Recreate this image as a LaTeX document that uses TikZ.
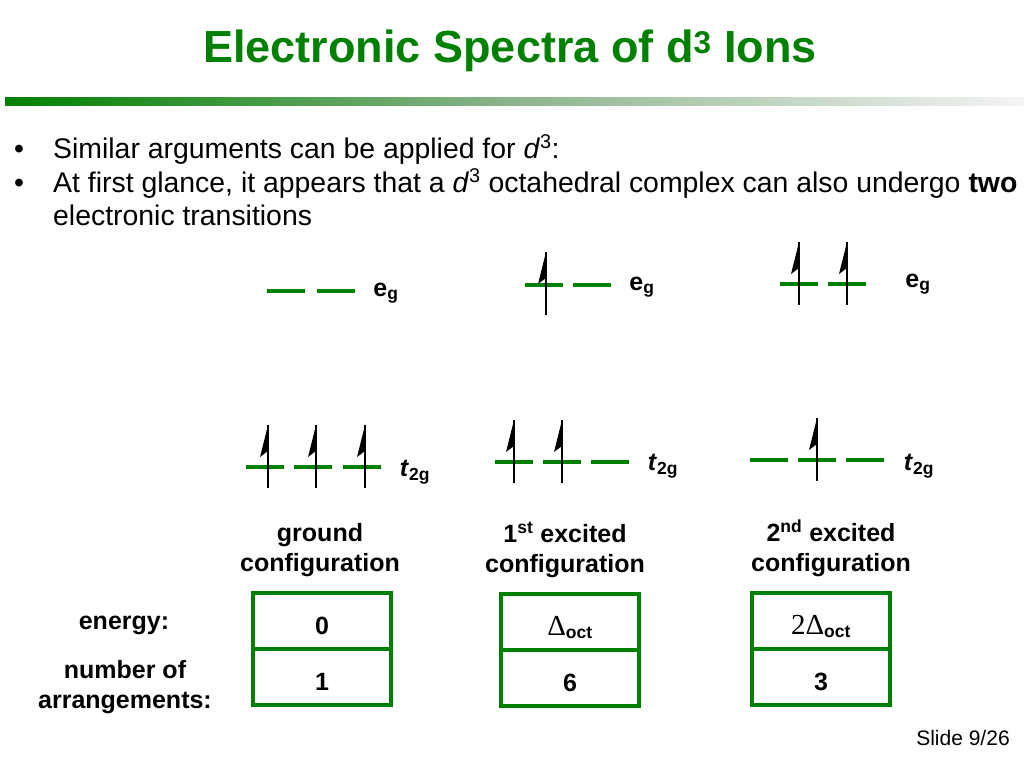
\documentclass[tikz,border=0pt]{standalone}
\usepackage{fontspec}
\setmainfont{Liberation Sans}
\newfontfamily\serifgr{Liberation Serif}
\usetikzlibrary{positioning}
\definecolor{slidegreen}{RGB}{0,128,0}
\definecolor{barmid}{RGB}{140,180,140}
\definecolor{barend}{RGB}{244,244,244}

\begin{document}
\begin{tikzpicture}[x=1pt, y=-1pt,
  orb/.style={fill=slidegreen, minimum width=38pt, minimum height=4pt, inner sep=0pt},
  spin/.pic={\draw[line width=1.4pt] (0,-42) -- (0,21);
             \fill (0,-42) -- (-8,-10) -- (0,-16) -- cycle;},
  lbl/.style={font=\fontsize{25}{30}\selectfont\bfseries, align=center},
  txt/.style={font=\fontsize{28.4}{33}\selectfont, anchor=base west, inner sep=0pt},
  cell/.style={draw=slidegreen, line width=4pt, minimum width=138pt, minimum height=56pt,
               inner sep=0pt, outer sep=0pt, text height=26pt, text depth=0pt,
               font=\fontsize{25}{30}\selectfont\bfseries}]
\fill[white] (0,0) rectangle (1024,768);
\useasboundingbox (0,0) rectangle (1024,768);
% title and bar
\node[anchor=base, text=slidegreen, font=\fontsize{45}{54}\selectfont\bfseries] (title) at (510,63)
  {Electronic Spectra of d\textsuperscript{3} Ions};
\shade[left color=slidegreen, right color=barend, middle color=barmid] (5,97) rectangle (1024,105);
% bullets
\node[txt] (dot1) at (14,158) {•};
\node[txt] (bul1) at (53,158) {Similar arguments can be applied for \textit{d}\textsuperscript{3}:};
\node[txt] (dot2) at (14,192) {•};
\node[txt] (bul2) at (53,192) {At first glance, it appears that a \textit{d}\textsuperscript{3} octahedral complex can also undergo \textbf{two}};
\node[txt] (bul3) at (53,225) {electronic transitions};
% ground configuration
\foreach \n/\x/\y in {g-e1/286/291, g-e2/336/291, g-t1/265/467, g-t2/313/467, g-t3/362/467}
  \node[orb] (\n) at (\x,\y) {};
\foreach \n in {g-t1, g-t2, g-t3}
  \pic at ([xshift=3pt]\n.center) {spin};
\node[lbl] (g-eg) at (386,293) {e\textsubscript{g}};
\node[lbl] (g-tg) at (415,472) {\textit{t}\textsubscript{2g}};
% 1st excited configuration
\foreach \n/\x/\y in {a-e1/544/285, a-e2/592/285, a-t1/514/462, a-t2/562/462, a-t3/610/462}
  \node[orb] (\n) at (\x,\y) {};
\pic at ([xshift=2pt, yshift=-9pt]a-e1.center) {spin};
\foreach \n in {a-t1, a-t2}
  \pic at (\n.center) {spin};
\node[lbl] (a-eg) at (642,287) {e\textsubscript{g}};
\node[lbl] (a-tg) at (663,466) {\textit{t}\textsubscript{2g}};
% 2nd excited configuration
\foreach \n/\x/\y in {b-e1/799/284, b-e2/847/284, b-t1/769/460, b-t2/817/460, b-t3/865/460}
  \node[orb] (\n) at (\x,\y) {};
\foreach \n in {b-e1, b-e2, b-t2}
  \pic at (\n.center) {spin};
\node[lbl] (b-eg) at (918,284) {e\textsubscript{g}};
\node[lbl] (b-tg) at (919,466) {\textit{t}\textsubscript{2g}};
% configuration names
\node[lbl] (g-name) at (320,550) {ground\\configuration};
\node[lbl] (a-name) at (565,550) {1\textsuperscript{st} excited\\configuration};
\node[lbl] (b-name) at (831,548) {2\textsuperscript{nd} excited\\configuration};
% energy / arrangements table
\node[lbl] (energy) at (124,625) {energy:};
\node[lbl] (arrange) at (125,687) {number of\\arrangements:};
\node[cell] (g-en) at (322,621) {0};
\node[cell, below=0pt of g-en] (g-nr) {1};
\node[cell] (a-en) at (570,622) {{\serifgr\mdseries\fontsize{29}{30}\selectfont Δ}\textsubscript{oct}};
\node[cell, below=0pt of a-en] (a-nr) {6};
\node[cell] (b-en) at (821,621) {{\serifgr\mdseries\fontsize{29}{30}\selectfont 2Δ}\textsubscript{oct}};
\node[cell, below=0pt of b-en] (b-nr) {3};
% footer
\node[font=\fontsize{21}{25}\selectfont] (slide) at (963,738) {Slide 9/26};
\end{tikzpicture}
\end{document}
